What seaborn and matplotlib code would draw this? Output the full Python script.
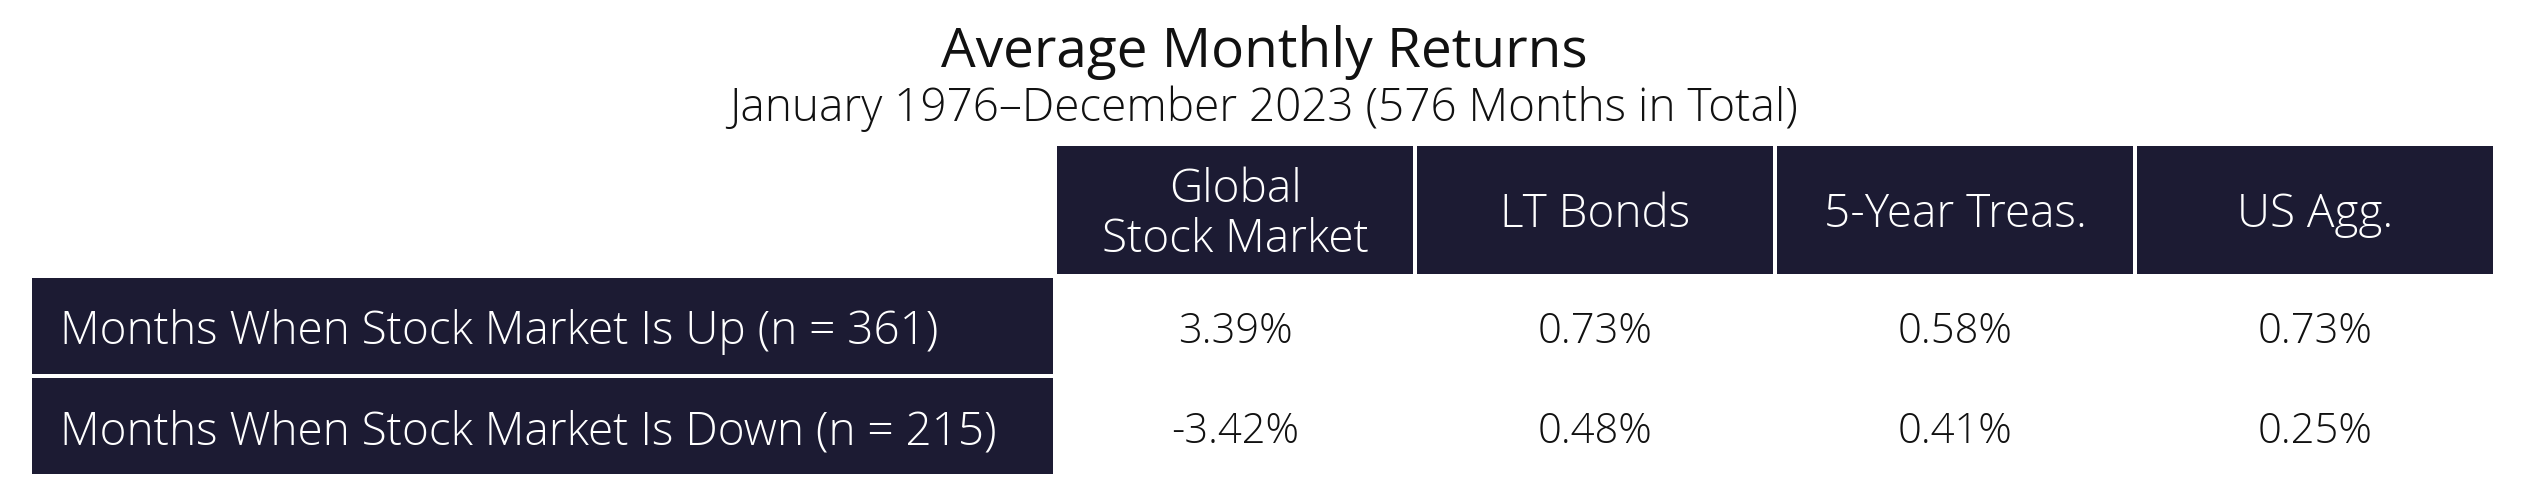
import matplotlib
matplotlib.use("Agg")
import matplotlib.pyplot as plt
from matplotlib.colors import ListedColormap
import numpy as np
import seaborn as sns

# table content
title = "Average Monthly Returns"
subtitle = "January 1976–December 2023 (576 Months in Total)"
columns = ["Global\nStock Market", "LT Bonds", "5-Year Treas.", "US Agg."]
row_labels = ["Months When Stock Market Is Up (n = 361)",
              "Months When Stock Market Is Down (n = 215)"]
up_returns = [3.39, 0.73, 0.58, 0.73]
down_returns = [-3.42, 0.48, 0.41, 0.25]

NAVY = "#1c1b33"
INK = "#111111"
W, H = 2525, 504
GAP = 4 * 72 / 100  # 4px white gap between cells, in points

sns.set_theme(style="white")
plt.rcParams["font.family"] = ["Open Sans", "DejaVu Sans"]

fig = plt.figure(figsize=(W / 100, H / 100), dpi=100)


def px_axes(x0, y0, x1, y1):
    return fig.add_axes([x0 / W, 1 - y1 / H, (x1 - x0) / W, (y1 - y0) / H])


def nudge_down(ax, px, height_px, nrows):
    # move annotations down a few pixels so caps sit in the cell middle
    for t in ax.texts:
        x, y = t.get_position()
        t.set_y(y + px * nrows / height_px)


# header row
ax_h = px_axes(1055, 144, 2495, 276)
sns.heatmap(np.zeros((1, len(columns))), ax=ax_h, cmap=ListedColormap([NAVY]),
            cbar=False, annot=np.array([columns]), fmt="",
            linewidths=GAP, linecolor="white",
            xticklabels=False, yticklabels=False,
            annot_kws=dict(color="white", fontsize=33, fontweight="light",
                           linespacing=1.12))
nudge_down(ax_h, 5, 132, 1)

# row labels
ax_r = px_axes(30, 276, 1055, 476)
sns.heatmap(np.zeros((len(row_labels), 1)), ax=ax_r, cmap=ListedColormap([NAVY]),
            cbar=False, annot=np.array(row_labels)[:, None], fmt="",
            linewidths=GAP, linecolor="white",
            xticklabels=False, yticklabels=False,
            annot_kws=dict(color="white", fontsize=33, fontweight="light"))
for t in ax_r.texts:
    t.set_ha("left")
    t.set_x((60 - 30) / (1055 - 30))
nudge_down(ax_r, 6, 200, 2)

# values
values = np.array([up_returns, down_returns])
labels = np.array([[f"{v:.2f}%" for v in row] for row in values])
ax_v = px_axes(1055, 276, 2495, 476)
sns.heatmap(values, ax=ax_v, cmap=ListedColormap(["white"]), cbar=False,
            annot=labels, fmt="", xticklabels=False, yticklabels=False,
            annot_kws=dict(color=INK, fontsize=30, fontweight="light"))
nudge_down(ax_v, 6, 200, 2)

fig.text(1264 / W, 1 - 67 / H, title, ha="center", va="baseline",
         fontsize=39.5, color=INK)
fig.text(1264 / W, 1 - 121 / H, subtitle, ha="center", va="baseline",
         fontsize=33, color=INK, fontweight="light")

fig.savefig("out.png", dpi=100, facecolor="white")
